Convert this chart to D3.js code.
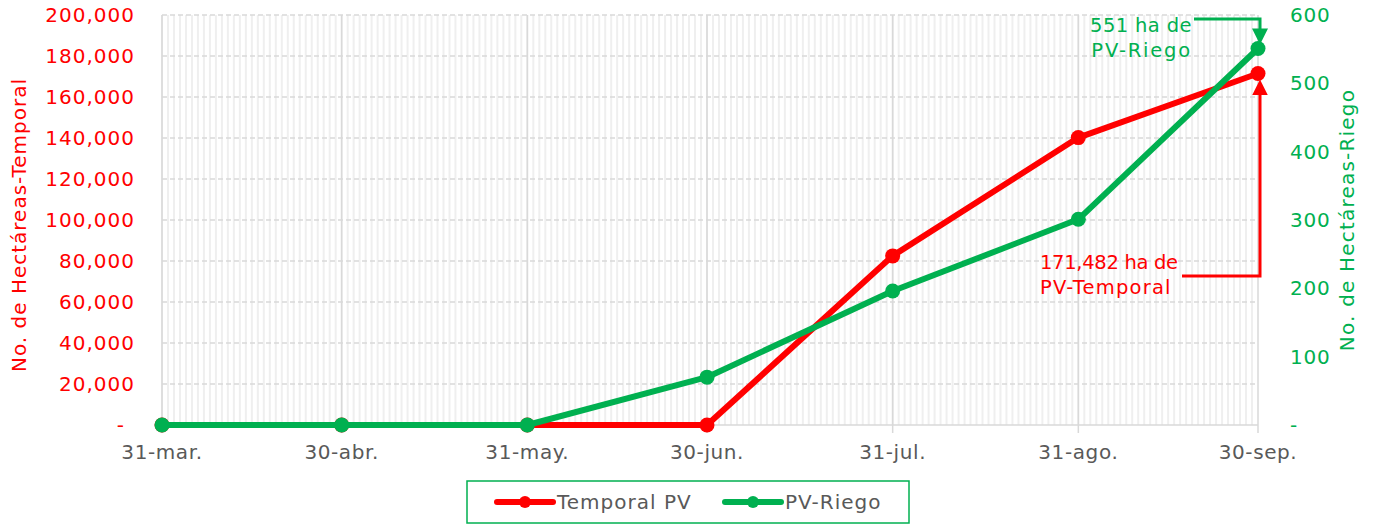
<!DOCTYPE html>
<html>
<head>
<meta charset="utf-8">
<script src="https://cdn.jsdelivr.net/npm/d3@7"></script>
<style>
  body { margin: 0; background: #fff; }
  svg { display: block; font-family: "DejaVu Sans", sans-serif; }
</style>
</head>
<body>
<svg id="chart"></svg>
<script>
const width = 1379;
const height = 525;

// fechas de corte (fin de mes)
const dates = ["2023-03-31", "2023-04-30", "2023-05-31", "2023-06-30", "2023-07-31", "2023-08-31", "2023-09-30"];
const dateLabels = ["31-mar.", "30-abr.", "31-may.", "30-jun.", "31-jul.", "31-ago.", "30-sep."];
const temporal = [0, 0, 0, 0, 82500, 140200, 171482];
const riego = [0, 0, 0, 70, 196, 301, 551];
const leftTicks = [0, 20000, 40000, 60000, 80000, 100000, 120000, 140000, 160000, 180000, 200000];
const rightTicks = [0, 100, 200, 300, 400, 500, 600];

const red = "#ff0000";
const green = "#00b050";
const grey = "#595959";

const margin = { top: 15, right: 121, bottom: 100, left: 162 };

const svg = d3.select("#chart")
  .attr("width", width)
  .attr("height", height);

const parse = d3.utcParse("%Y-%m-%d");
const days = dates.map(parse);

const x = d3.scaleUtc()
  .domain(d3.extent(days))
  .range([margin.left, width - margin.right]);
const yL = d3.scaleLinear().domain([0, 200000]).range([height - margin.bottom, margin.top]);
const yR = d3.scaleLinear().domain([0, 600]).range([height - margin.bottom, margin.top]);

const x0 = x.range()[0], x1 = x.range()[1];
const yb = yL.range()[0], yt = yL.range()[1];

// rejilla diaria
const grid = svg.append("g");
grid.selectAll("line.day")
  .data(d3.utcDay.range(days[0], days[days.length - 1]))
  .enter().append("line")
  .attr("x1", d => x(d)).attr("x2", d => x(d))
  .attr("y1", yt).attr("y2", yb)
  .attr("stroke", "#efefef")
  .attr("stroke-width", 2);

grid.selectAll("line.h")
  .data(leftTicks.slice(1))
  .enter().append("line")
  .attr("x1", x0).attr("x2", x1)
  .attr("y1", d => yL(d)).attr("y2", d => yL(d))
  .attr("stroke", "#d9d9d9")
  .attr("stroke-width", 1.5)
  .attr("stroke-dasharray", "5,3");

grid.selectAll("line.month")
  .data(days)
  .enter().append("line")
  .attr("x1", d => x(d)).attr("x2", d => x(d))
  .attr("y1", yt).attr("y2", yb + 8)
  .attr("stroke", "#d9d9d9")
  .attr("stroke-width", 1.5);

grid.append("line")
  .attr("x1", x0).attr("x2", x1).attr("y1", yb).attr("y2", yb)
  .attr("stroke", "#d9d9d9").attr("stroke-width", 1.5);

// ejes
svg.append("g")
  .selectAll("text")
  .data(leftTicks)
  .enter().append("text")
  .attr("x", d => d === 0 ? 125 : 135)
  .attr("y", d => yL(d))
  .attr("dy", "0.35em")
  .attr("text-anchor", "end")
  .attr("fill", red)
  .attr("font-size", 20)
  .attr("letter-spacing", 1)
  .text(d => d === 0 ? "-" : d3.format(",")(d));

svg.append("g")
  .selectAll("text")
  .data(rightTicks)
  .enter().append("text")
  .attr("x", 1290)
  .attr("y", d => yR(d))
  .attr("dy", "0.35em")
  .attr("text-anchor", "start")
  .attr("fill", green)
  .attr("font-size", 20)
  .attr("letter-spacing", 0.8)
  .text(d => d === 0 ? " -" : d);

svg.append("g")
  .selectAll("text")
  .data(days)
  .enter().append("text")
  .attr("x", d => x(d))
  .attr("y", 452)
  .attr("dy", "0.35em")
  .attr("text-anchor", "middle")
  .attr("fill", grey)
  .attr("font-size", 20)
  .attr("letter-spacing", 0.6)
  .text((d, i) => dateLabels[i]);

svg.append("text")
  .attr("transform", "translate(26,225) rotate(-90)")
  .attr("text-anchor", "middle")
  .attr("fill", red)
  .attr("font-size", 20)
  .attr("letter-spacing", 1)
  .text("No. de Hectáreas-Temporal");

svg.append("text")
  .attr("transform", "translate(1354,220) rotate(-90)")
  .attr("text-anchor", "middle")
  .attr("fill", green)
  .attr("font-size", 20)
  .attr("letter-spacing", 1.2)
  .text("No. de Hectáreas-Riego");

// series
const series = [
  { name: "Temporal PV", values: temporal, y: yL, color: red },
  { name: "PV-Riego", values: riego, y: yR, color: green }
];

series.forEach(s => {
  const pts = days.map((d, i) => [d, s.values[i]]);
  svg.append("path")
    .datum(pts)
    .attr("fill", "none")
    .attr("stroke", s.color)
    .attr("stroke-width", 6)
    .attr("stroke-linejoin", "round")
    .attr("d", d3.line().x(d => x(d[0])).y(d => s.y(d[1])));
  svg.append("g")
    .selectAll("circle")
    .data(pts)
    .enter().append("circle")
    .attr("cx", d => x(d[0]))
    .attr("cy", d => s.y(d[1]))
    .attr("r", 7.5)
    .attr("fill", s.color);
});

// anotaciones
const defs = svg.append("defs");
[["arrRed", red], ["arrGreen", green]].forEach(([id, c]) => {
  defs.append("marker")
    .attr("id", id)
    .attr("viewBox", "0 0 10 10")
    .attr("refX", 5).attr("refY", 5)
    .attr("markerWidth", 16).attr("markerHeight", 16)
    .attr("markerUnits", "userSpaceOnUse")
    .attr("orient", "auto")
    .append("path")
    .attr("d", "M0,0 L10,5 L0,10 z")
    .attr("fill", c);
});

const lastD = days[days.length - 1];
const xl = x(lastD) + 2;

const gy = yR(riego[riego.length - 1]);
svg.append("path")
  .attr("d", `M1194,19 H${xl} V${gy - 12}`)
  .attr("fill", "none")
  .attr("stroke", green)
  .attr("stroke-width", 3)
  .attr("marker-end", "url(#arrGreen)");

const ry = yL(temporal[temporal.length - 1]);
svg.append("path")
  .attr("d", `M1182,276 H${xl} V${ry + 14}`)
  .attr("fill", "none")
  .attr("stroke", red)
  .attr("stroke-width", 3)
  .attr("marker-end", "url(#arrRed)");

const ann = [
  { lines: ["551 ha de", "PV-Riego"], spacing: [0.4, 1.8], x: 1192, y: 25, anchor: "end", color: green },
  { lines: ["171,482 ha de", "PV-Temporal"], spacing: [-0.3, 1.2], x: 1040, y: 262, anchor: "start", color: red }
];
ann.forEach(a => {
  const t = svg.append("text")
    .attr("x", a.x).attr("y", a.y)
    .attr("text-anchor", a.anchor)
    .attr("fill", a.color)
    .attr("font-size", 19.5);
  a.lines.forEach((l, i) => {
    t.append("tspan")
      .attr("x", a.x)
      .attr("dy", i === 0 ? "0.35em" : 25)
      .attr("letter-spacing", a.spacing[i])
      .text(l);
  });
});

// leyenda
const lg = svg.append("g");
lg.append("rect")
  .attr("x", 467).attr("y", 481)
  .attr("width", 442).attr("height", 42)
  .attr("fill", "#fff")
  .attr("stroke", green)
  .attr("stroke-width", 1.5);

const legendX = [497, 725];
series.forEach((s, i) => {
  const g = lg.append("g").attr("transform", `translate(${legendX[i]},502)`);
  g.append("line").attr("x1", 0).attr("x2", 56)
    .attr("stroke", s.color).attr("stroke-width", 6).attr("stroke-linecap", "round");
  g.append("circle").attr("cx", 28).attr("r", 6).attr("fill", s.color);
  g.append("text").attr("x", 60).attr("dy", "0.35em")
    .attr("fill", grey).attr("font-size", 20).attr("letter-spacing", 1)
    .text(s.name);
});
</script>
</body>
</html>
